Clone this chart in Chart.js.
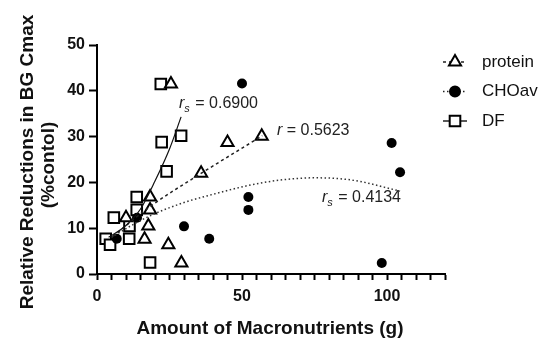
<!DOCTYPE html>
<html>
<head>
<meta charset="utf-8">
<script src="https://cdn.jsdelivr.net/npm/chart.js@4/dist/chart.umd.min.js"></script>
<style>
  html, body { margin: 0; padding: 0; background: #fff; }
  #wrap { width: 550px; height: 341px; }
</style>
</head>
<body>
<div id="wrap"><canvas id="macroChart" width="550" height="341"></canvas></div>
<script>
// measured points (g, % reduction)
const proteinX = [25.5, 45, 56.8, 35.9, 18.3, 18.3, 10, 17.7, 16.4, 24.6, 29.1];
const proteinY = [41.5, 28.7, 30.1, 22.0, 16.8, 14.0, 12.3, 10.5, 7.6, 6.4, 2.4];
const choX = [50, 101.6, 104.5, 52.2, 52.2, 13.8, 30, 38.7, 6.8, 98.2];
const choY = [41.6, 28.6, 22.2, 16.8, 14.0, 12.3, 10.4, 7.7, 7.7, 2.4];
const dfX = [22, 22.3, 29, 24, 13.7, 13.7, 5.8, 11.2, 3, 4.5, 11.1, 18.3];
const dfY = [41.5, 28.8, 30.2, 22.4, 16.8, 14.0, 12.3, 10.5, 7.7, 6.4, 7.7, 2.5];

// fitted lines
const proteinFitX = [5.5, 18, 36, 57];
const proteinFitY = [8.2, 14.6, 22, 30.2];
const choFitX = [5, 13, 20, 30, 40, 52, 63, 75, 88, 104.5];
const choFitY = [8, 11, 13.2, 15.6, 17.4, 19.3, 20.5, 21, 20.5, 18.1];
const dfFitX = [4, 10, 15, 20, 25, 29];
const dfFitY = [8, 10.6, 14.2, 20.3, 27.3, 34.3];

const xTicks = [0, 50, 100];
const yTicks = [0, 10, 20, 30, 40, 50];

const FONT = '"Liberation Sans", Arial, sans-serif';
const pts = (xs, ys) => xs.map((x, i) => ({ x: x, y: ys[i] }));

const textPlugin = {
  id: 'texts',
  afterDraw(chart) {
    const ctx = chart.ctx;
    ctx.save();
    ctx.fillStyle = '#111';

    // y title (two lines)
    ctx.save();
    ctx.translate(33, 162);
    ctx.rotate(-Math.PI / 2);
    ctx.textAlign = 'center';
    ctx.textBaseline = 'alphabetic';
    ctx.font = 'bold 19px ' + FONT;
    ctx.fillText('Relative Reductions in BG Cmax', 0, 0);
    ctx.fillText('(%contol)', -3, 21);
    ctx.restore();

    // x title
    ctx.textAlign = 'center';
    ctx.textBaseline = 'alphabetic';
    ctx.font = 'bold 19px ' + FONT;
    ctx.fillText('Amount of Macronutrients (g)', 270, 334);

    // correlation labels
    const label = (x, y, sub, rest) => {
      ctx.textAlign = 'left';
      ctx.fillStyle = '#222';
      ctx.font = 'italic 16px ' + FONT;
      ctx.fillText('r', x, y);
      let w = ctx.measureText('r').width;
      if (sub) {
        ctx.font = 'italic 11px ' + FONT;
        ctx.fillText('s', x + w, y + 4);
        w += ctx.measureText('s').width + 1;
      }
      ctx.font = '16px ' + FONT;
      ctx.fillText(rest, x + w, y);
    };
    label(179, 108, true, ' = 0.6900');
    label(277, 135, false, ' = 0.5623');
    label(322, 202, true, ' = 0.4134');

    // legend
    const items = [
      { text: 'protein', style: 'triangle', dash: [3, 3] },
      { text: 'CHOav', style: 'circle', dash: [1.5, 2.5] },
      { text: 'DF', style: 'rect', dash: [] }
    ];
    items.forEach((it, i) => {
      const y = 62 + i * 29.5;
      ctx.strokeStyle = '#222';
      ctx.lineWidth = 1.5;
      ctx.setLineDash(it.dash);
      ctx.beginPath();
      ctx.moveTo(443, y);
      ctx.lineTo(467, y);
      ctx.stroke();
      ctx.setLineDash([]);
      ctx.lineWidth = 2;
      ctx.strokeStyle = '#000';
      ctx.fillStyle = it.style === 'circle' ? '#000' : '#fff';
      const r = it.style === 'circle' ? 5 : (it.style === 'rect' ? 7.5 : 7);
      Chart.helpers.drawPoint(ctx, { pointStyle: it.style, radius: r, borderWidth: 2, rotation: 0 }, 455, y);
      ctx.fillStyle = '#111';
      ctx.font = '17px ' + FONT;
      ctx.textAlign = 'left';
      ctx.textBaseline = 'middle';
      ctx.fillText(it.text, 482, y);
    });
    ctx.restore();
  }
};

const ctx = document.getElementById('macroChart').getContext('2d');
const macroChart = new Chart(ctx, {
  type: 'scatter',
  data: {
    datasets: [
      {
        label: 'DF fit',
        type: 'line',
        data: pts(dfFitX, dfFitY),
        borderColor: '#111',
        borderWidth: 1.2,
        pointRadius: 0,
        fill: false,
        cubicInterpolationMode: 'monotone'
      },
      {
        label: 'protein fit',
        type: 'line',
        data: pts(proteinFitX, proteinFitY),
        borderColor: '#222',
        borderWidth: 1.5,
        borderDash: [3, 3],
        pointRadius: 0,
        fill: false,
        cubicInterpolationMode: 'monotone'
      },
      {
        label: 'CHOav fit',
        type: 'line',
        data: pts(choFitX, choFitY),
        borderColor: '#333',
        borderWidth: 1.5,
        borderDash: [1.5, 2.5],
        pointRadius: 0,
        fill: false,
        cubicInterpolationMode: 'monotone'
      },
      {
        label: 'protein',
        data: pts(proteinX, proteinY),
        pointStyle: 'triangle',
        pointRadius: 7,
        pointBorderWidth: 2,
        borderColor: '#000',
        backgroundColor: '#fff'
      },
      {
        label: 'CHOav',
        data: pts(choX, choY),
        pointStyle: 'circle',
        pointRadius: 5,
        pointBorderWidth: 0,
        borderColor: '#000',
        backgroundColor: '#000'
      },
      {
        label: 'DF',
        data: pts(dfX, dfY),
        pointStyle: 'rect',
        pointRadius: 7.5,
        pointBorderWidth: 2,
        borderColor: '#000',
        backgroundColor: '#fff'
      }
    ]
  },
  options: {
    responsive: false,
    animation: false,
    layout: { padding: { top: 45, right: 105, left: 0, bottom: 0 } },
    plugins: {
      legend: { display: false },
      tooltip: { enabled: false }
    },
    scales: {
      x: {
        type: 'linear',
        min: 0,
        max: 120,
        afterFit(scale) { scale.height = 67; },
        border: { color: '#000', width: 2 },
        grid: { drawOnChartArea: false, drawTicks: true, tickLength: 6, tickColor: '#000', tickWidth: 2 },
        ticks: {
          stepSize: 5,
          autoSkip: false,
          maxRotation: 0,
          padding: 7,
          color: '#111',
          font: { family: FONT, size: 16, weight: 'bold' },
          callback: (v) => xTicks.includes(v) ? String(v) : ''
        }
      },
      y: {
        type: 'linear',
        min: 0,
        max: 50,
        afterFit(scale) { scale.width = 97; },
        border: { color: '#000', width: 2 },
        grid: { drawOnChartArea: false, drawTicks: true, tickLength: 8, tickColor: '#000', tickWidth: 2 },
        ticks: {
          stepSize: 10,
          padding: 4,
          color: '#111',
          font: { family: FONT, size: 16, weight: 'bold' },
          callback: (v) => yTicks.includes(v) ? String(v) : ''
        }
      }
    }
  },
  plugins: [textPlugin]
});
</script>
</body>
</html>
